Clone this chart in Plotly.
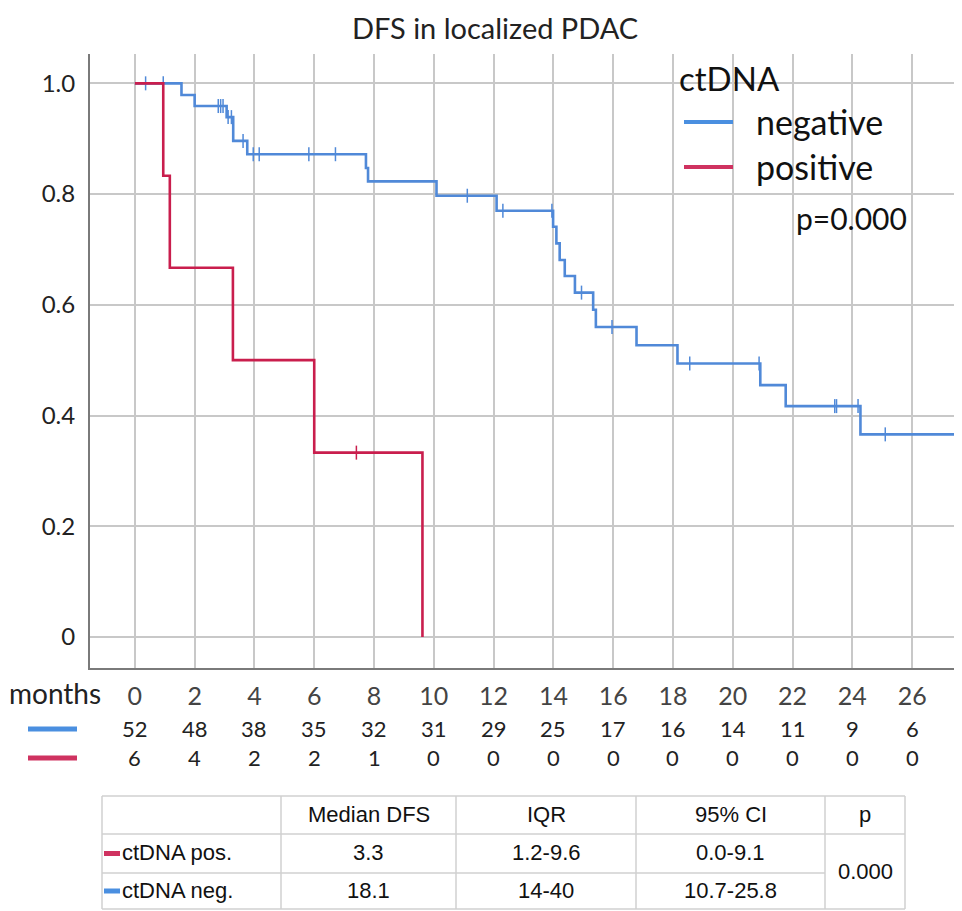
import numpy as np
import plotly.graph_objects as go

# ---------------- data ----------------
chart_title = "DFS in localized PDAC"
legend_title = "ctDNA"
series_names = ["negative", "positive"]

# Kaplan-Meier: ctDNA negative (event times in months, survival after each step)
neg_event_times = [0, 1.56, 2.0, 3.07, 3.29, 3.76, 7.73, 7.80, 10.09, 12.10, 13.99, 14.10,
                   14.21, 14.38, 14.72, 15.33, 15.42, 16.78, 18.15, 20.92, 21.77, 24.27]
neg_surv = [1.0, 0.979, 0.959, 0.939, 0.896, 0.872, 0.847, 0.823, 0.797, 0.770, 0.741, 0.711,
            0.681, 0.652, 0.622, 0.591, 0.560, 0.527, 0.494, 0.455, 0.417, 0.366]
neg_last_followup = 27.6
neg_censor_times = [0.36, 0.95, 2.79, 2.87, 2.95, 3.12, 3.23, 3.62, 3.96, 4.16, 5.82, 6.71,
                    11.12, 12.31, 13.95, 14.94, 15.96, 18.56, 20.88, 23.41, 23.47, 24.19, 25.10]

# Kaplan-Meier: ctDNA positive
pos_event_times = [0, 0.95, 1.17, 3.28, 6.0, 9.62]
pos_surv = [1.0, 0.833, 0.667, 0.5, 0.333, 0.0]
pos_last_followup = 9.62
pos_censor_times = [7.41]

p_text = "p=0.000"

# numbers at risk
risk_months = [0, 2, 4, 6, 8, 10, 12, 14, 16, 18, 20, 22, 24, 26]
neg_at_risk = [52, 48, 38, 35, 32, 31, 29, 25, 17, 16, 14, 11, 9, 6]
pos_at_risk = [6, 4, 2, 2, 1, 0, 0, 0, 0, 0, 0, 0, 0, 0]
months_label = "months"

y_ticks = [0, 0.2, 0.4, 0.6, 0.8, 1.0]
y_tick_text = ["0", "0.2", "0.4", "0.6", "0.8", "1.0"]

# summary table
table_header = ["", "Median DFS", "IQR", "95% CI", "p"]
table_row_pos = ["ctDNA pos.", "3.3", "1.2-9.6", "0.0-9.1"]
table_row_neg = ["ctDNA neg.", "18.1", "14-40", "10.7-25.8"]
table_p = "0.000"

# ---------------- styling ----------------
BLUE = "#5089d8"
RED = "#c91e4d"
SW_BLUE = "#4a8fe0"
SW_RED = "#cf3260"
GRID = "#c8c8c8"
AXIS = "#7a7a7a"
FONT = "Lato"
TFONT = "Liberation Sans"

OFF = 8  # page body margin
W, H = 962 - OFF, 911 - OFF
# plot area in reference-page pixels
L, R, T, B = 90, 960, 54, 668


def px_x(px):
    return (px - L) / (R - L)


def px_y(py):
    return (B - py) / (B - T)


def step_value(times, surv, t):
    i = np.searchsorted(np.array(times), t, side="right") - 1
    return surv[max(i, 0)]


def km_xy(times, surv, end):
    xs = list(times) + [end]
    ys = list(surv) + [surv[-1]]
    return xs, ys


fig = go.Figure()

nx, ny = km_xy(neg_event_times, neg_surv, neg_last_followup)
fig.add_trace(go.Scatter(x=nx, y=ny, mode="lines", line=dict(color=BLUE, width=2.6, shape="hv"),
                         name=series_names[0], showlegend=False, hoverinfo="skip"))
fig.add_trace(go.Scatter(x=neg_censor_times,
                         y=[step_value(neg_event_times, neg_surv, t) for t in neg_censor_times],
                         mode="markers", showlegend=False, hoverinfo="skip",
                         marker=dict(symbol="line-ns", size=10, line=dict(color=BLUE, width=1.5))))

px_, py_ = km_xy(pos_event_times, pos_surv, pos_last_followup)
fig.add_trace(go.Scatter(x=px_, y=py_, mode="lines", line=dict(color=RED, width=2.6, shape="hv"),
                         name=series_names[1], showlegend=False, hoverinfo="skip"))
fig.add_trace(go.Scatter(x=pos_censor_times,
                         y=[step_value(pos_event_times, pos_surv, t) for t in pos_censor_times],
                         mode="markers", showlegend=False, hoverinfo="skip",
                         marker=dict(symbol="line-ns", size=10, line=dict(color=RED, width=1.5))))

shapes = []
ann = []

# legend box (white, hides the grid)
shapes.append(dict(type="rect", xref="paper", yref="paper", x0=px_x(676), x1=px_x(912),
                   y0=px_y(193), y1=px_y(55), fillcolor="white", line=dict(width=0), layer="between"))
ann.append(dict(text=legend_title, xref="paper", yref="paper", x=px_x(677), y=px_y(78),
                xanchor="left", yanchor="middle", showarrow=False,
                font=dict(family=FONT, size=33, color="#111")))
for name, col, yy in [(series_names[0], SW_BLUE, 122), (series_names[1], SW_RED, 167)]:
    shapes.append(dict(type="line", xref="paper", yref="paper", x0=px_x(684), x1=px_x(733),
                       y0=px_y(yy), y1=px_y(yy), line=dict(color=col, width=4)))
    ann.append(dict(text=name, xref="paper", yref="paper", x=px_x(754), y=px_y(yy - 1),
                    xanchor="left", yanchor="middle", showarrow=False,
                    font=dict(family=FONT, size=34, color="#111")))

ann.append(dict(text=p_text, xref="paper", yref="paper", x=px_x(909), y=px_y(218),
                xanchor="right", yanchor="middle", showarrow=False,
                font=dict(family=FONT, size=30, color="#111")))

# title
ann.append(dict(text=chart_title, xref="paper", yref="paper", x=px_x(495), y=px_y(28),
                xanchor="center", yanchor="middle", showarrow=False, borderpad=0,
                font=dict(family=FONT, size=29, color="#222")))

# risk table
ann.append(dict(text=months_label, xref="paper", yref="paper", x=px_x(55), y=px_y(693),
                xanchor="center", yanchor="middle", showarrow=False,
                font=dict(family=FONT, size=28, color="#222")))
for col, yy in [(SW_BLUE, 729), (SW_RED, 758)]:
    shapes.append(dict(type="line", xref="paper", yref="paper", x0=px_x(28), x1=px_x(77),
                       y0=px_y(yy), y1=px_y(yy), line=dict(color=col, width=5)))
for m, a, b in zip(risk_months, neg_at_risk, pos_at_risk):
    ann.append(dict(text=str(a), xref="x", yref="paper", x=m, y=px_y(728),
                    xanchor="center", yanchor="middle", showarrow=False,
                    font=dict(family=FONT, size=22, color="#222")))
    ann.append(dict(text=str(b), xref="x", yref="paper", x=m, y=px_y(757),
                    xanchor="center", yanchor="middle", showarrow=False,
                    font=dict(family=FONT, size=22, color="#222")))

# summary table
col_edges = [102, 281, 456, 636, 825, 905]
row_edges = [796, 834, 873, 909]
TCOL = "#d0d0d0"
for xe in col_edges:
    shapes.append(dict(type="line", xref="paper", yref="paper", x0=px_x(xe), x1=px_x(xe),
                       y0=px_y(row_edges[0]), y1=px_y(row_edges[-1]), line=dict(color=TCOL, width=1.5)))
shapes.append(dict(type="line", xref="paper", yref="paper", x0=px_x(col_edges[0]), x1=px_x(col_edges[-1]),
                   y0=px_y(row_edges[0]), y1=px_y(row_edges[0]), line=dict(color=TCOL, width=1.5)))
shapes.append(dict(type="line", xref="paper", yref="paper", x0=px_x(col_edges[0]), x1=px_x(col_edges[-1]),
                   y0=px_y(row_edges[1]), y1=px_y(row_edges[1]), line=dict(color=TCOL, width=1.5)))
shapes.append(dict(type="line", xref="paper", yref="paper", x0=px_x(col_edges[0]), x1=px_x(col_edges[4]),
                   y0=px_y(row_edges[2]), y1=px_y(row_edges[2]), line=dict(color=TCOL, width=1.5)))
shapes.append(dict(type="line", xref="paper", yref="paper", x0=px_x(col_edges[0]), x1=px_x(col_edges[-1]),
                   y0=px_y(row_edges[3]), y1=px_y(row_edges[3]), line=dict(color=TCOL, width=1.5)))


def cell_center(ci, ri):
    return (col_edges[ci] + col_edges[ci + 1]) / 2, (row_edges[ri] + row_edges[ri + 1]) / 2


tfont = dict(family=TFONT, size=22, color="#111")
for ci, txt in enumerate(table_header):
    if txt:
        cx, cy = cell_center(ci, 0)
        ann.append(dict(text=txt, xref="paper", yref="paper", x=px_x(cx), y=px_y(cy - 1),
                        xanchor="center", yanchor="middle", showarrow=False, font=tfont))
for ri, (row, col) in enumerate([(table_row_pos, SW_RED), (table_row_neg, SW_BLUE)], start=1):
    cx, cy = cell_center(0, ri)
    shapes.append(dict(type="line", xref="paper", yref="paper", x0=px_x(104), x1=px_x(120),
                       y0=px_y(cy), y1=px_y(cy), line=dict(color=col, width=5)))
    ann.append(dict(text=row[0], xref="paper", yref="paper", x=px_x(120), y=px_y(cy - 1),
                    xanchor="left", yanchor="middle", showarrow=False, font=tfont))
    for ci in range(1, 4):
        cx, cy = cell_center(ci, ri)
        ann.append(dict(text=row[ci], xref="paper", yref="paper", x=px_x(cx), y=px_y(cy - 1),
                        xanchor="center", yanchor="middle", showarrow=False, font=tfont))
ann.append(dict(text=table_p, xref="paper", yref="paper",
                x=px_x((col_edges[4] + col_edges[5]) / 2), y=px_y((row_edges[1] + row_edges[3]) / 2),
                xanchor="center", yanchor="middle", showarrow=False, font=tfont))

fig.update_layout(
    width=W, height=H,
    margin=dict(l=L - OFF, r=962 - R, t=T - OFF, b=911 - B),
    paper_bgcolor="white", plot_bgcolor="white",
    showlegend=False,
    shapes=shapes, annotations=ann,
    xaxis=dict(range=[-1.5, 27.6], tickmode="array", tickvals=risk_months,
               ticktext=[str(m) for m in risk_months],
               showgrid=True, gridcolor=GRID, gridwidth=1.6, zeroline=False,
               showline=True, linecolor=AXIS, linewidth=2,
               ticks="outside", ticklen=5, tickcolor="rgba(0,0,0,0)",
               tickfont=dict(family=FONT, size=25, color="#444")),
    yaxis=dict(range=[-0.056, 1.053], tickmode="array", tickvals=y_ticks, ticktext=y_tick_text,
               showgrid=True, gridcolor=GRID, gridwidth=1.6, zeroline=False,
               showline=True, linecolor=AXIS, linewidth=2,
               ticks="outside", ticklen=8, tickcolor="rgba(0,0,0,0)",
               tickfont=dict(family=FONT, size=24, color="#222")),
)

fig.write_html("out.html")
